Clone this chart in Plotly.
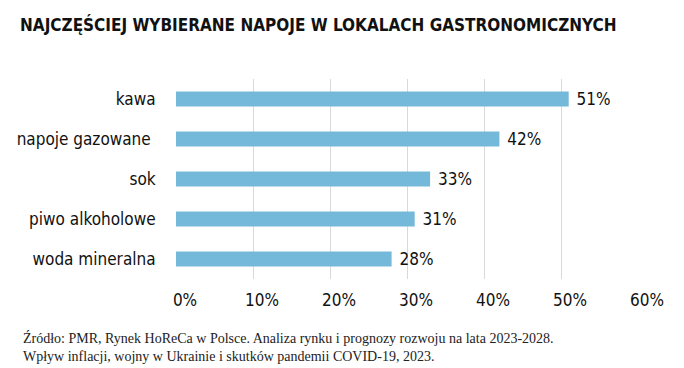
import plotly.graph_objects as go

categories = ["kawa", "napoje gazowane ", "sok", "piwo alkoholowe", "woda mineralna"]
values = [51, 42, 33, 31, 28]
tick_vals = [0, 10, 20, 30, 40, 50, 60]
tick_text = ["0%", "10%", "20%", "30%", "40%", "50%", "60%"]
title_text = "NAJCZĘŚCIEJ WYBIERANE NAPOJE W LOKALACH GASTRONOMICZNYCH"
source_text = ("Źródło: PMR, Rynek HoReCa w Polsce. Analiza rynku i prognozy rozwoju na lata 2023-2028.<br>"
               "Wpływ inflacji, wojny w Ukrainie i skutków pandemii COVID-19, 2023.")

W, H = 684, 368
L, R, T, B = 176, 46, 79, 89
pw, ph = W - L - R, H - T - B

cond = "Liberation Sans Narrow, DejaVu Sans Condensed, Arial Narrow, sans-serif"

fig = go.Figure(go.Bar(
    x=values, y=categories, orientation="h",
    marker=dict(color="#74b8da", line=dict(width=0)),
    texttemplate=" %{x}%", textposition="outside",
    constraintext="none",
    textfont=dict(family=cond, size=17, color="#111111"),
    cliponaxis=False, hoverinfo="skip",
))

fig.update_layout(
    width=W, height=H,
    margin=dict(l=L, r=R, t=T, b=B),
    paper_bgcolor="white", plot_bgcolor="white",
    bargap=0.62,
    showlegend=False,
    title=dict(text="<b>" + title_text + "</b>", x=20 / W, xanchor="left",
               xref="container", y=1 - 25 / H, yref="container", yanchor="middle",
               font=dict(family="DejaVu Sans Condensed, Liberation Sans Narrow, sans-serif", size=17, color="#111111")),
    xaxis=dict(range=[0, 60], tickvals=tick_vals, ticktext=tick_text,
               showgrid=True, gridcolor="#d9d9d9", gridwidth=1, zeroline=False,
               showline=False, ticks="outside", ticklen=6, tickcolor="rgba(0,0,0,0)",
               ticklabelshift=9,
               tickfont=dict(family=cond, size=17, color="#111111"), fixedrange=True),
    yaxis=dict(autorange="reversed", showgrid=False, zeroline=False, showline=False,
               ticks="outside", ticklen=16, tickcolor="rgba(0,0,0,0)",
               tickfont=dict(family=cond, size=17, color="#111111"), fixedrange=True),
    annotations=[dict(text=source_text, xref="paper", yref="paper",
                      x=(21 - L) / pw, y=(T + ph - 328) / ph, xanchor="left", yanchor="top",
                      align="left", showarrow=False,
                      font=dict(family="Liberation Serif, DejaVu Serif, serif", size=14, color="#222222"))],
)

fig.write_html("out.html", config={"displayModeBar": False},
               post_script="document.body.style.margin='0';document.body.style.padding='0';")
